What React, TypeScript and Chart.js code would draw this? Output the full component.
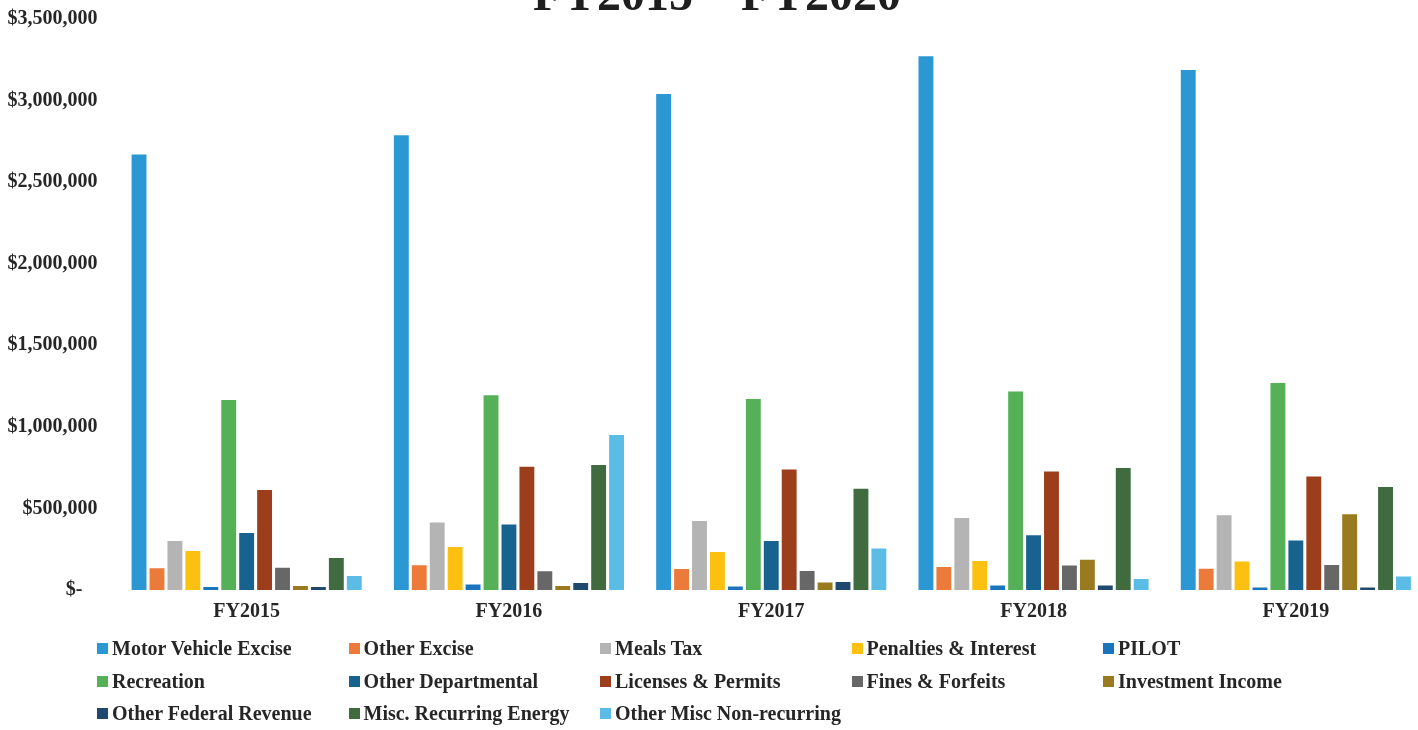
import { useEffect, useRef } from "react";
import { Chart, registerables } from "chart.js";

Chart.register(...registerables);

// Fiscal years on the category axis
const categories = ["FY2015", "FY2016", "FY2017", "FY2018", "FY2019"];

// Revenue by source, dollars per fiscal year
const motorVehicleExcise = [2669000, 2788000, 3040000, 3271000, 3187000];
const otherExcise = [133000, 151000, 129000, 141000, 131000];
const mealsTax = [300000, 413000, 423000, 441000, 458000];
const penaltiesInterest = [239000, 264000, 233000, 178000, 174000];
const pilot = [18000, 33000, 22000, 28000, 16000];
const recreation = [1165000, 1193000, 1171000, 1216000, 1269000];
const otherDepartmental = [349000, 402000, 300000, 335000, 303000];
const licensesPermits = [613000, 756000, 739000, 727000, 695000];
const finesForfeits = [137000, 115000, 117000, 150000, 153000];
const investmentIncome = [25000, 25000, 46000, 186000, 464000];
const otherFederalRevenue = [18000, 43000, 49000, 28000, 16000];
const miscRecurringEnergy = [196000, 766000, 620000, 748000, 631000];
const otherMiscNonRecurring = [86000, 950000, 254000, 67000, 82000];

const seriesNames = [
  "Motor Vehicle Excise",
  "Other Excise",
  "Meals Tax",
  "Penalties & Interest",
  "PILOT",
  "Recreation",
  "Other Departmental",
  "Licenses & Permits",
  "Fines & Forfeits",
  "Investment Income",
  "Other Federal Revenue",
  "Misc. Recurring Energy",
  "Other Misc Non-recurring",
];

const seriesValues = [
  motorVehicleExcise,
  otherExcise,
  mealsTax,
  penaltiesInterest,
  pilot,
  recreation,
  otherDepartmental,
  licensesPermits,
  finesForfeits,
  investmentIncome,
  otherFederalRevenue,
  miscRecurringEnergy,
  otherMiscNonRecurring,
];

const seriesColors = [
  "#2b97d3",
  "#ec7a3a",
  "#b4b4b4",
  "#fcc010",
  "#1a74bd",
  "#55b058",
  "#17628f",
  "#9c3e1c",
  "#676767",
  "#9a7a1e",
  "#1e4a70",
  "#3f6b3f",
  "#5bbde6",
];

// Value axis range and tick step
const yMax = 3500000;
const yStep = 500000;

const titleText = "FY2015 \u2013 FY2020";

const FONT = '"Liberation Serif", "Times New Roman", serif';
const TEXT_COLOR = "#262626";

const CANVAS_W = 1434;
const CANVAS_H = 668;
const CANVAS_TOP = -26;

function formatDollars(v: number): string {
  if (v === 0) return "$-   ";
  return "$" + v.toLocaleString("en-US");
}

export default function App() {
  const canvasRef = useRef<HTMLCanvasElement | null>(null);

  useEffect(() => {
    const canvas = canvasRef.current;
    if (!canvas) return;

    const chart = new Chart(canvas, {
      type: "bar",
      data: {
        labels: categories,
        datasets: seriesNames.map((name, i) => ({
          label: name,
          data: seriesValues[i],
          backgroundColor: seriesColors[i],
          borderWidth: 0,
          barPercentage: 0.83,
          categoryPercentage: 0.889,
        })),
      },
      options: {
        responsive: false,
        animation: false,
        devicePixelRatio: 1,
        layout: { padding: { left: 7, right: 7, top: 0, bottom: 8 } },
        plugins: {
          legend: { display: false },
          tooltip: { enabled: false },
          title: {
            display: true,
            text: titleText,
            color: "#1f1f1f",
            font: { family: FONT, size: 48, weight: "bold", lineHeight: 1 },
            padding: { top: 0, bottom: -3 },
          },
        },
        scales: {
          x: {
            grid: { display: false, drawTicks: false },
            border: { display: false },
            ticks: {
              padding: 10,
              color: TEXT_COLOR,
              font: { family: FONT, size: 20, weight: "bold" },
            },
          },
          y: {
            min: 0,
            max: yMax,
            grid: { display: false, drawTicks: false },
            border: { display: false },
            afterFit: (scale: any) => {
              scale.width = 108.5;
            },
            ticks: {
              stepSize: yStep,
              padding: 18,
              color: TEXT_COLOR,
              font: { family: FONT, size: 20, weight: "bold" },
              callback: (v: any) => formatDollars(Number(v)),
            },
          },
        },
      },
    });

    return () => chart.destroy();
  }, []);

  return (
    <div
      style={{
        position: "fixed",
        left: 0,
        top: 0,
        width: 1418,
        height: 730,
        overflow: "hidden",
        background: "#ffffff",
      }}
    >
      <canvas
        ref={canvasRef}
        width={CANVAS_W}
        height={CANVAS_H}
        style={{
          position: "absolute",
          left: 0,
          top: CANVAS_TOP,
          width: CANVAS_W,
          height: CANVAS_H,
        }}
      />
      <div
        style={{
          position: "absolute",
          left: 97,
          top: 632,
          display: "grid",
          gridTemplateColumns: "repeat(5, 251.5px)",
          gridAutoRows: "32.7px",
        }}
      >
        {seriesNames.map((name, i) => (
          <div
            key={name}
            style={{ display: "flex", alignItems: "center", whiteSpace: "nowrap" }}
          >
            <span
              style={{
                display: "inline-block",
                width: 11,
                height: 11,
                marginRight: 4,
                background: seriesColors[i],
              }}
            />
            <span
              style={{
                fontFamily: FONT,
                fontWeight: "bold",
                fontSize: 20,
                color: TEXT_COLOR,
                lineHeight: "32.7px",
              }}
            >
              {name}
            </span>
          </div>
        ))}
      </div>
    </div>
  );
}
